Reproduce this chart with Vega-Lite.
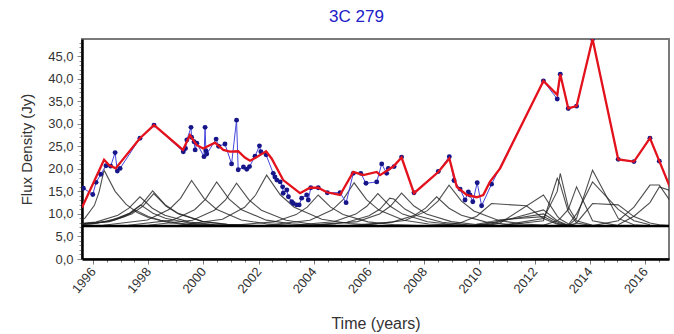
{
  "$schema": "https://vega.github.io/schema/vega-lite/v6.json",
  "autosize": {"type": "none"},
  "width": 587,
  "height": 220,
  "padding": {"left": 82, "top": 39, "right": 5, "bottom": 75},
  "background": "white",
  "config": {
    "font": "Liberation Sans",
    "view": {"stroke": "#7a7a7a", "strokeWidth": 2}
  },
  "title": {"text": "3C 279", "color": "#2020c8", "fontSize": 17, "font": "Liberation Sans", "fontWeight": "normal", "offset": 11, "dx": -19},
  "datasets": {
    "obs": [
      {"t": 1995.65, "v": 15.7}, {"t": 1995.99, "v": 14.3}, {"t": 1996.11, "v": 17.0}, {"t": 1996.28, "v": 18.8},
      {"t": 1996.47, "v": 20.7}, {"t": 1996.64, "v": 20.6}, {"t": 1996.80, "v": 23.6}, {"t": 1996.88, "v": 19.5},
      {"t": 1996.98, "v": 20.1}, {"t": 1997.70, "v": 26.8}, {"t": 1998.21, "v": 29.7}, {"t": 1999.27, "v": 23.8},
      {"t": 1999.35, "v": 24.5}, {"t": 1999.40, "v": 26.4}, {"t": 1999.55, "v": 29.2}, {"t": 1999.57, "v": 27.0},
      {"t": 1999.66, "v": 26.0}, {"t": 1999.70, "v": 24.2}, {"t": 1999.76, "v": 25.7}, {"t": 2000.02, "v": 22.7},
      {"t": 2000.06, "v": 29.2}, {"t": 2000.09, "v": 24.0}, {"t": 2000.12, "v": 23.3}, {"t": 2000.46, "v": 26.6},
      {"t": 2000.55, "v": 25.0}, {"t": 2000.78, "v": 25.5}, {"t": 2001.02, "v": 21.1}, {"t": 2001.20, "v": 30.8},
      {"t": 2001.26, "v": 19.8}, {"t": 2001.45, "v": 20.4}, {"t": 2001.57, "v": 19.9}, {"t": 2001.67, "v": 20.5},
      {"t": 2001.87, "v": 22.8}, {"t": 2002.03, "v": 25.1}, {"t": 2002.08, "v": 23.8}, {"t": 2002.27, "v": 23.1},
      {"t": 2002.53, "v": 19.0}, {"t": 2002.59, "v": 18.2}, {"t": 2002.66, "v": 17.5}, {"t": 2002.78, "v": 17.1},
      {"t": 2002.87, "v": 16.0}, {"t": 2002.89, "v": 14.6}, {"t": 2003.02, "v": 15.3}, {"t": 2003.08, "v": 13.8},
      {"t": 2003.20, "v": 12.7}, {"t": 2003.26, "v": 12.3}, {"t": 2003.38, "v": 12.0}, {"t": 2003.47, "v": 12.0},
      {"t": 2003.56, "v": 13.5}, {"t": 2003.74, "v": 14.2}, {"t": 2003.80, "v": 13.1}, {"t": 2003.89, "v": 15.8},
      {"t": 2004.16, "v": 15.8}, {"t": 2004.49, "v": 14.7}, {"t": 2004.95, "v": 14.7}, {"t": 2005.17, "v": 12.5},
      {"t": 2005.43, "v": 19.0}, {"t": 2005.70, "v": 19.0}, {"t": 2005.89, "v": 16.8}, {"t": 2006.28, "v": 17.1},
      {"t": 2006.46, "v": 21.1}, {"t": 2006.64, "v": 19.0}, {"t": 2006.70, "v": 20.1}, {"t": 2006.91, "v": 20.5},
      {"t": 2007.18, "v": 22.6}, {"t": 2007.63, "v": 14.7}, {"t": 2008.51, "v": 19.4}, {"t": 2008.91, "v": 22.7},
      {"t": 2009.08, "v": 17.4}, {"t": 2009.30, "v": 15.5}, {"t": 2009.48, "v": 13.1}, {"t": 2009.60, "v": 14.9},
      {"t": 2009.66, "v": 14.2}, {"t": 2009.76, "v": 12.7}, {"t": 2009.92, "v": 16.9}, {"t": 2010.08, "v": 11.8},
      {"t": 2010.44, "v": 16.6}, {"t": 2012.32, "v": 39.5}, {"t": 2012.82, "v": 35.5}, {"t": 2012.93, "v": 41.0},
      {"t": 2013.22, "v": 33.4}, {"t": 2013.52, "v": 33.9}, {"t": 2014.10, "v": 48.8}, {"t": 2015.03, "v": 22.1},
      {"t": 2015.60, "v": 21.6}, {"t": 2016.18, "v": 26.8}, {"t": 2016.52, "v": 21.7}
    ],
    "model": [
      {"t": 1995.6, "v": 11.4}, {"t": 1996.40, "v": 22.0}, {"t": 1996.59, "v": 20.8}, {"t": 1996.82, "v": 20.1},
      {"t": 1997.70, "v": 26.8}, {"t": 1998.21, "v": 29.7}, {"t": 1999.26, "v": 24.2}, {"t": 1999.51, "v": 27.5},
      {"t": 1999.75, "v": 25.3}, {"t": 1999.99, "v": 24.5}, {"t": 2000.42, "v": 25.8}, {"t": 2000.72, "v": 24.2},
      {"t": 2000.96, "v": 23.8}, {"t": 2001.26, "v": 23.9}, {"t": 2001.50, "v": 22.5}, {"t": 2001.69, "v": 21.8},
      {"t": 2001.93, "v": 22.6}, {"t": 2002.27, "v": 23.9}, {"t": 2002.47, "v": 22.3}, {"t": 2002.89, "v": 17.5},
      {"t": 2003.50, "v": 14.6}, {"t": 2003.86, "v": 15.8}, {"t": 2004.16, "v": 15.8}, {"t": 2004.47, "v": 14.8},
      {"t": 2004.95, "v": 14.2}, {"t": 2005.43, "v": 19.3}, {"t": 2005.79, "v": 18.6}, {"t": 2006.28, "v": 19.3},
      {"t": 2006.40, "v": 18.6}, {"t": 2006.88, "v": 20.5}, {"t": 2007.18, "v": 22.5}, {"t": 2007.63, "v": 14.6},
      {"t": 2008.51, "v": 19.3}, {"t": 2008.91, "v": 22.3}, {"t": 2009.18, "v": 16.0}, {"t": 2009.54, "v": 14.2},
      {"t": 2009.90, "v": 13.7}, {"t": 2010.14, "v": 14.2}, {"t": 2010.38, "v": 17.1}, {"t": 2010.75, "v": 20.1},
      {"t": 2012.32, "v": 39.5}, {"t": 2012.82, "v": 36.4}, {"t": 2012.93, "v": 41.0}, {"t": 2013.22, "v": 33.4},
      {"t": 2013.52, "v": 33.9}, {"t": 2014.10, "v": 48.8}, {"t": 2015.03, "v": 22.1}, {"t": 2015.60, "v": 21.6},
      {"t": 2016.18, "v": 26.8}, {"t": 2016.52, "v": 21.7}, {"t": 2016.9, "v": 16.0}
    ],
    "base": [{"t": 1995.6, "v": 7.3}, {"t": 2016.87, "v": 7.3}],
    "comp": [
      {"c": 1, "t": 1995.3, "v": 7.8}, {"c": 1, "t": 1995.7, "v": 9.0}, {"c": 1, "t": 1996.05, "v": 11.9}, {"c": 1, "t": 1996.22, "v": 14.9}, {"c": 1, "t": 1996.40, "v": 19.7}, {"c": 1, "t": 1996.8, "v": 15.0}, {"c": 1, "t": 1997.2, "v": 12.1}, {"c": 1, "t": 1997.6, "v": 10.3}, {"c": 1, "t": 1998.0, "v": 9.2}, {"c": 1, "t": 1998.8, "v": 8.0}, {"c": 1, "t": 1999.6, "v": 7.6}, {"c": 1, "t": 2000.6, "v": 7.4},
      {"c": 2, "t": 1994.5, "v": 7.42}, {"c": 2, "t": 1996.1, "v": 8.18}, {"c": 2, "t": 1996.9, "v": 9.71}, {"c": 2, "t": 1997.3, "v": 11.27}, {"c": 2, "t": 1997.7, "v": 13.8}, {"c": 2, "t": 1998.15, "v": 11.27}, {"c": 2, "t": 1998.6, "v": 9.71}, {"c": 2, "t": 1999.5, "v": 8.18}, {"c": 2, "t": 2000.4, "v": 7.63}, {"c": 2, "t": 2001.3, "v": 7.42},
      {"c": 3, "t": 1994.52, "v": 7.38}, {"c": 3, "t": 1996.12, "v": 7.93}, {"c": 3, "t": 1996.92, "v": 9.04}, {"c": 3, "t": 1997.32, "v": 10.17}, {"c": 3, "t": 1997.72, "v": 12.0}, {"c": 3, "t": 1998.17, "v": 10.17}, {"c": 3, "t": 1998.62, "v": 9.04}, {"c": 3, "t": 1999.52, "v": 7.93}, {"c": 3, "t": 2000.42, "v": 7.54}, {"c": 3, "t": 2001.32, "v": 7.38},
      {"c": 4, "t": 1994.35, "v": 7.36}, {"c": 4, "t": 1995.95, "v": 7.77}, {"c": 4, "t": 1996.75, "v": 8.6}, {"c": 4, "t": 1997.15, "v": 9.44}, {"c": 4, "t": 1997.55, "v": 10.8}, {"c": 4, "t": 1998.0, "v": 9.44}, {"c": 4, "t": 1998.45, "v": 8.6}, {"c": 4, "t": 1999.35, "v": 7.77}, {"c": 4, "t": 2000.25, "v": 7.48}, {"c": 4, "t": 2001.15, "v": 7.36},
      {"c": 5, "t": 1994.96, "v": 7.44}, {"c": 5, "t": 1996.56, "v": 8.35}, {"c": 5, "t": 1997.36, "v": 10.19}, {"c": 5, "t": 1997.76, "v": 12.06}, {"c": 5, "t": 1998.16, "v": 15.1}, {"c": 5, "t": 1998.61, "v": 12.06}, {"c": 5, "t": 1999.06, "v": 10.19}, {"c": 5, "t": 1999.96, "v": 8.35}, {"c": 5, "t": 2000.86, "v": 7.69}, {"c": 5, "t": 2001.76, "v": 7.44},
      {"c": 6, "t": 1995.0, "v": 7.43}, {"c": 6, "t": 1996.6, "v": 8.27}, {"c": 6, "t": 1997.4, "v": 9.96}, {"c": 6, "t": 1997.8, "v": 11.69}, {"c": 6, "t": 1998.2, "v": 14.5}, {"c": 6, "t": 1998.65, "v": 11.69}, {"c": 6, "t": 1999.1, "v": 9.96}, {"c": 6, "t": 2000.0, "v": 8.27}, {"c": 6, "t": 2000.9, "v": 7.66}, {"c": 6, "t": 2001.8, "v": 7.43},
      {"c": 7, "t": 1996.37, "v": 7.48}, {"c": 7, "t": 1997.97, "v": 8.66}, {"c": 7, "t": 1998.77, "v": 11.04}, {"c": 7, "t": 1999.17, "v": 13.46}, {"c": 7, "t": 1999.57, "v": 17.4}, {"c": 7, "t": 2000.02, "v": 13.46}, {"c": 7, "t": 2000.47, "v": 11.04}, {"c": 7, "t": 2001.37, "v": 8.66}, {"c": 7, "t": 2002.27, "v": 7.81}, {"c": 7, "t": 2003.17, "v": 7.48},
      {"c": 8, "t": 1997.28, "v": 7.48}, {"c": 8, "t": 1998.88, "v": 8.62}, {"c": 8, "t": 1999.68, "v": 10.93}, {"c": 8, "t": 2000.08, "v": 13.28}, {"c": 8, "t": 2000.48, "v": 17.1}, {"c": 8, "t": 2000.93, "v": 13.28}, {"c": 8, "t": 2001.38, "v": 10.93}, {"c": 8, "t": 2002.28, "v": 8.62}, {"c": 8, "t": 2003.18, "v": 7.79}, {"c": 8, "t": 2004.08, "v": 7.48},
      {"c": 9, "t": 1998.0, "v": 7.47}, {"c": 9, "t": 1999.6, "v": 8.58}, {"c": 9, "t": 2000.4, "v": 10.82}, {"c": 9, "t": 2000.8, "v": 13.1}, {"c": 9, "t": 2001.2, "v": 16.8}, {"c": 9, "t": 2001.65, "v": 13.1}, {"c": 9, "t": 2002.1, "v": 10.82}, {"c": 9, "t": 2003.0, "v": 8.58}, {"c": 9, "t": 2003.9, "v": 7.78}, {"c": 9, "t": 2004.8, "v": 7.47},
      {"c": 10, "t": 1999.09, "v": 7.5}, {"c": 10, "t": 2000.69, "v": 8.83}, {"c": 10, "t": 2001.49, "v": 11.48}, {"c": 10, "t": 2001.89, "v": 14.19}, {"c": 10, "t": 2002.29, "v": 18.6}, {"c": 10, "t": 2002.79, "v": 14.19}, {"c": 10, "t": 2003.29, "v": 11.48}, {"c": 10, "t": 2004.29, "v": 8.83}, {"c": 10, "t": 2005.29, "v": 7.87}, {"c": 10, "t": 2006.29, "v": 7.5},
      {"c": 11, "t": 2000.96, "v": 7.42}, {"c": 11, "t": 2002.56, "v": 8.23}, {"c": 11, "t": 2003.36, "v": 9.85}, {"c": 11, "t": 2003.76, "v": 11.51}, {"c": 11, "t": 2004.16, "v": 14.2}, {"c": 11, "t": 2004.61, "v": 11.51}, {"c": 11, "t": 2005.06, "v": 9.85}, {"c": 11, "t": 2005.96, "v": 8.23}, {"c": 11, "t": 2006.86, "v": 7.65}, {"c": 11, "t": 2007.76, "v": 7.42},
      {"c": 12, "t": 2002.26, "v": 7.47}, {"c": 12, "t": 2003.86, "v": 8.6}, {"c": 12, "t": 2004.66, "v": 10.85}, {"c": 12, "t": 2005.06, "v": 13.16}, {"c": 12, "t": 2005.46, "v": 16.9}, {"c": 12, "t": 2005.91, "v": 13.16}, {"c": 12, "t": 2006.36, "v": 10.85}, {"c": 12, "t": 2007.26, "v": 8.6}, {"c": 12, "t": 2008.16, "v": 7.78}, {"c": 12, "t": 2009.06, "v": 7.47},
      {"c": 13, "t": 2003.12, "v": 7.43}, {"c": 13, "t": 2004.72, "v": 8.27}, {"c": 13, "t": 2005.52, "v": 9.96}, {"c": 13, "t": 2005.92, "v": 11.69}, {"c": 13, "t": 2006.32, "v": 14.5}, {"c": 13, "t": 2006.77, "v": 11.69}, {"c": 13, "t": 2007.22, "v": 9.96}, {"c": 13, "t": 2008.12, "v": 8.27}, {"c": 13, "t": 2009.02, "v": 7.66}, {"c": 13, "t": 2009.92, "v": 7.43},
      {"c": 14, "t": 2003.6, "v": 7.41}, {"c": 14, "t": 2005.2, "v": 8.14}, {"c": 14, "t": 2006.0, "v": 9.59}, {"c": 14, "t": 2006.4, "v": 11.08}, {"c": 14, "t": 2006.75, "v": 13.5}, {"c": 14, "t": 2006.9, "v": 13.3}, {"c": 14, "t": 2007.3, "v": 11.08}, {"c": 14, "t": 2007.75, "v": 9.59}, {"c": 14, "t": 2008.65, "v": 8.14}, {"c": 14, "t": 2009.55, "v": 7.61}, {"c": 14, "t": 2010.45, "v": 7.41},
      {"c": 15, "t": 2003.98, "v": 7.43}, {"c": 15, "t": 2005.58, "v": 8.29}, {"c": 15, "t": 2006.38, "v": 10.0}, {"c": 15, "t": 2006.78, "v": 11.75}, {"c": 15, "t": 2007.18, "v": 14.6}, {"c": 15, "t": 2007.63, "v": 11.75}, {"c": 15, "t": 2008.08, "v": 10.0}, {"c": 15, "t": 2008.98, "v": 8.29}, {"c": 15, "t": 2009.88, "v": 7.67}, {"c": 15, "t": 2010.78, "v": 7.43},
      {"c": 16, "t": 2005.25, "v": 7.42}, {"c": 16, "t": 2006.85, "v": 8.18}, {"c": 16, "t": 2007.65, "v": 9.71}, {"c": 16, "t": 2008.05, "v": 11.27}, {"c": 16, "t": 2008.45, "v": 13.8}, {"c": 16, "t": 2008.9, "v": 11.27}, {"c": 16, "t": 2009.35, "v": 9.71}, {"c": 16, "t": 2010.25, "v": 8.18}, {"c": 16, "t": 2011.15, "v": 7.63}, {"c": 16, "t": 2012.05, "v": 7.42},
      {"c": 17, "t": 2005.7, "v": 7.46}, {"c": 17, "t": 2007.3, "v": 8.53}, {"c": 17, "t": 2008.1, "v": 10.67}, {"c": 17, "t": 2008.5, "v": 12.85}, {"c": 17, "t": 2008.9, "v": 16.4}, {"c": 17, "t": 2009.35, "v": 12.85}, {"c": 17, "t": 2009.8, "v": 10.67}, {"c": 17, "t": 2010.7, "v": 8.53}, {"c": 17, "t": 2011.6, "v": 7.76}, {"c": 17, "t": 2012.5, "v": 7.46},
      {"c": 18, "t": 2008.5, "v": 7.4}, {"c": 18, "t": 2009.3, "v": 8.0}, {"c": 18, "t": 2009.9, "v": 9.5}, {"c": 18, "t": 2010.44, "v": 12.3}, {"c": 18, "t": 2011.7, "v": 11.8}, {"c": 18, "t": 2012.32, "v": 9.0}, {"c": 18, "t": 2012.82, "v": 7.7}, {"c": 18, "t": 2013.5, "v": 7.4},
      {"c": 19, "t": 2009.9, "v": 7.4}, {"c": 19, "t": 2010.44, "v": 7.6}, {"c": 19, "t": 2010.75, "v": 8.0}, {"c": 19, "t": 2012.32, "v": 14.2}, {"c": 19, "t": 2012.82, "v": 9.5}, {"c": 19, "t": 2012.93, "v": 8.8}, {"c": 19, "t": 2013.22, "v": 7.8}, {"c": 19, "t": 2013.52, "v": 7.4},
      {"c": 20, "t": 2009.9, "v": 7.5}, {"c": 20, "t": 2010.44, "v": 7.8}, {"c": 20, "t": 2010.75, "v": 8.3}, {"c": 20, "t": 2012.32, "v": 10.9}, {"c": 20, "t": 2012.82, "v": 8.5}, {"c": 20, "t": 2013.22, "v": 7.5},
      {"c": 21, "t": 2009.9, "v": 7.6}, {"c": 21, "t": 2010.44, "v": 8.0}, {"c": 21, "t": 2010.75, "v": 8.5}, {"c": 21, "t": 2012.32, "v": 10.0}, {"c": 21, "t": 2012.82, "v": 8.2}, {"c": 21, "t": 2013.22, "v": 7.4},
      {"c": 22, "t": 2009.9, "v": 7.7}, {"c": 22, "t": 2010.44, "v": 8.3}, {"c": 22, "t": 2010.75, "v": 8.7}, {"c": 22, "t": 2012.32, "v": 9.4}, {"c": 22, "t": 2012.82, "v": 7.9}, {"c": 22, "t": 2013.22, "v": 7.4},
      {"c": 23, "t": 2010.75, "v": 7.4}, {"c": 23, "t": 2012.32, "v": 9.0}, {"c": 23, "t": 2012.82, "v": 15.0}, {"c": 23, "t": 2012.93, "v": 19.0}, {"c": 23, "t": 2013.22, "v": 11.5}, {"c": 23, "t": 2013.52, "v": 8.5}, {"c": 23, "t": 2014.10, "v": 7.5}, {"c": 23, "t": 2015.03, "v": 7.3},
      {"c": 24, "t": 2010.75, "v": 7.4}, {"c": 24, "t": 2012.32, "v": 8.5}, {"c": 24, "t": 2012.82, "v": 17.9}, {"c": 24, "t": 2012.93, "v": 16.5}, {"c": 24, "t": 2013.22, "v": 10.5}, {"c": 24, "t": 2013.52, "v": 8.0}, {"c": 24, "t": 2014.10, "v": 7.4},
      {"c": 25, "t": 2012.32, "v": 7.5}, {"c": 25, "t": 2012.82, "v": 8.5}, {"c": 25, "t": 2012.93, "v": 9.0}, {"c": 25, "t": 2013.22, "v": 11.0}, {"c": 25, "t": 2013.52, "v": 16.0}, {"c": 25, "t": 2014.10, "v": 8.5}, {"c": 25, "t": 2015.03, "v": 7.4},
      {"c": 26, "t": 2013.22, "v": 7.4}, {"c": 26, "t": 2013.52, "v": 9.0}, {"c": 26, "t": 2014.10, "v": 19.7}, {"c": 26, "t": 2015.03, "v": 9.0}, {"c": 26, "t": 2015.60, "v": 7.6}, {"c": 26, "t": 2016.18, "v": 7.3},
      {"c": 27, "t": 2013.22, "v": 7.6}, {"c": 27, "t": 2013.52, "v": 10.0}, {"c": 27, "t": 2014.10, "v": 17.1}, {"c": 27, "t": 2015.03, "v": 11.0}, {"c": 27, "t": 2015.60, "v": 8.5}, {"c": 27, "t": 2016.18, "v": 7.6},
      {"c": 28, "t": 2013.22, "v": 7.4}, {"c": 28, "t": 2013.52, "v": 8.0}, {"c": 28, "t": 2014.10, "v": 12.3}, {"c": 28, "t": 2015.03, "v": 12.0}, {"c": 28, "t": 2015.60, "v": 9.4}, {"c": 28, "t": 2016.18, "v": 8.0}, {"c": 28, "t": 2016.52, "v": 7.6}, {"c": 28, "t": 2016.9, "v": 7.4},
      {"c": 29, "t": 2014.10, "v": 7.4}, {"c": 29, "t": 2015.03, "v": 8.5}, {"c": 29, "t": 2015.60, "v": 11.5}, {"c": 29, "t": 2016.18, "v": 16.4}, {"c": 29, "t": 2016.52, "v": 16.4}, {"c": 29, "t": 2016.9, "v": 13.0},
      {"c": 30, "t": 2015.03, "v": 7.6}, {"c": 30, "t": 2015.60, "v": 9.5}, {"c": 30, "t": 2016.18, "v": 12.5}, {"c": 30, "t": 2016.52, "v": 16.0}, {"c": 30, "t": 2016.9, "v": 15.2}
    ]
  },
  "encoding": {
    "x": {
      "field": "t", "type": "quantitative",
      "scale": {"domain": [1995.6, 2016.87], "nice": false, "zero": false},
      "axis": {
        "title": "Time (years)", "titleFontSize": 16, "titleFontWeight": "normal", "titleColor": "#333", "titlePadding": 20,
        "grid": false, "domainColor": "#000", "domainWidth": 2.5,
        "values": [1996, 1996.5, 1997, 1997.5, 1998, 1998.5, 1999, 1999.5, 2000, 2000.5, 2001, 2001.5, 2002, 2002.5, 2003, 2003.5, 2004, 2004.5, 2005, 2005.5, 2006, 2006.5, 2007, 2007.5, 2008, 2008.5, 2009, 2009.5, 2010, 2010.5, 2011, 2011.5, 2012, 2012.5, 2013, 2013.5, 2014, 2014.5, 2015, 2015.5, 2016, 2016.5],
        "labelExpr": "datum.value % 2 === 0 ? format(datum.value, 'd') : ''",
        "labelAngle": -50, "labelAlign": "right", "labelBaseline": "middle", "labelFontSize": 13, "labelColor": "#333",
        "labelOverlap": false, "labelFlush": false, "labelPadding": 5,
        "tickColor": "#777",
        "tickSize": {"condition": {"test": "datum.value % 2 === 0", "value": 5}, "value": 3}
      }
    },
    "y": {
      "field": "v", "type": "quantitative",
      "scale": {"domain": [0, 48.8], "nice": false},
      "axis": {
        "title": "Flux Density (Jy)", "titleFontSize": 15, "titleFontWeight": "normal", "titleColor": "#333", "titlePadding": 13,
        "grid": false, "domainColor": "#000", "domainWidth": 2.5,
        "values": [0, 1, 2, 3, 4, 5, 6, 7, 8, 9, 10, 11, 12, 13, 14, 15, 16, 17, 18, 19, 20, 21, 22, 23, 24, 25, 26, 27, 28, 29, 30, 31, 32, 33, 34, 35, 36, 37, 38, 39, 40, 41, 42, 43, 44, 45, 46, 47, 48],
        "labelExpr": "datum.value % 5 === 0 ? replace(format(datum.value, '.1f'), '.', ',') : ''",
        "labelFontSize": 13, "labelColor": "#333", "labelOverlap": false, "labelFlush": false, "labelPadding": 4,
        "tickColor": "#888",
        "tickSize": {"condition": {"test": "datum.value % 5 === 0", "value": 5}, "value": 3}
      }
    }
  },
  "layer": [
    {
      "data": {"name": "comp"},
      "mark": {"type": "line", "clip": true, "color": "#222", "strokeWidth": 1.1, "opacity": 0.8},
      "encoding": {"detail": {"field": "c", "type": "nominal"}}
    },
    {
      "data": {"name": "base"},
      "mark": {"type": "line", "clip": true, "color": "#000", "strokeWidth": 2.5},
      "encoding": {}
    },
    {
      "data": {"name": "obs"},
      "mark": {"type": "line", "clip": true, "color": "#4545dd", "strokeWidth": 1},
      "encoding": {}
    },
    {
      "data": {"name": "obs"},
      "mark": {"type": "point", "clip": true, "shape": "circle", "filled": true, "size": 24, "color": "#16168a", "opacity": 1},
      "encoding": {}
    },
    {
      "data": {"name": "model"},
      "mark": {"type": "line", "clip": true, "color": "#e3121c", "strokeWidth": 2.3},
      "encoding": {}
    }
  ]
}
